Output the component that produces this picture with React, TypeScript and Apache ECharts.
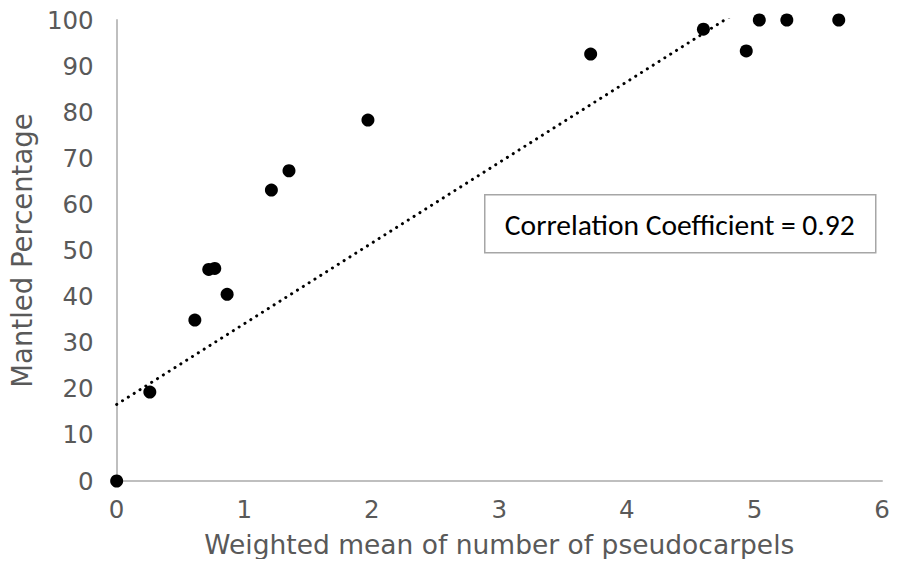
import React, { useEffect, useRef } from "react";
import * as echarts from "echarts";

// Weighted mean number of pseudocarpels per sample (x) and mantled percentage (y)
const pseudocarpelMeans = [
  0, 0.26, 0.613, 0.722, 0.769, 0.866, 1.213, 1.351, 1.97, 3.716, 4.6, 4.936, 5.038, 5.254, 5.661,
];
const mantledPercent = [
  0, 19.3, 34.9, 45.9, 46.1, 40.5, 63.1, 67.3, 78.3, 92.6, 98.0, 93.3, 100, 100, 100,
];

// Linear trend line
const trendIntercept = 16.6;
const trendSlope = 17.5;
const correlationText = "Correlation Coefficient = 0.92";

const xTicks = [0, 1, 2, 3, 4, 5, 6];
const yTicks = [0, 10, 20, 30, 40, 50, 60, 70, 80, 90, 100];

const AXIS_FONT = "'DejaVu Sans', Verdana, sans-serif";
const GREY_TEXT = "#595959";

export default function App() {
  const ref = useRef<HTMLDivElement>(null);

  useEffect(() => {
    if (!ref.current) return;
    const chart = echarts.init(ref.current, undefined, { renderer: "svg" });

    const points = pseudocarpelMeans.map((x, i) => [x, mantledPercent[i]]);
    const xMin = Math.min(...pseudocarpelMeans);
    const xMax = Math.max(...pseudocarpelMeans);
    const trend = [
      [xMin, trendIntercept + trendSlope * xMin],
      [xMax, trendIntercept + trendSlope * xMax],
    ];

    chart.setOption({
      animation: false,
      backgroundColor: "#ffffff",
      grid: { left: 115, right: 21, top: 20, bottom: 86, containLabel: false },
      xAxis: {
        type: "value",
        min: xTicks[0],
        max: xTicks[xTicks.length - 1],
        interval: 1,
        name: "Weighted mean of number of pseudocarpels",
        nameLocation: "middle",
        nameGap: 50,
        nameTextStyle: { fontFamily: AXIS_FONT, fontSize: 26.5, color: GREY_TEXT },
        axisLine: { show: true, onZero: false, lineStyle: { color: "#bfbfbf", width: 2 } },
        axisTick: { show: false },
        splitLine: { show: false },
        axisLabel: { fontFamily: AXIS_FONT, fontSize: 24.5, color: GREY_TEXT, margin: 16 },
      },
      yAxis: {
        type: "value",
        min: yTicks[0],
        max: yTicks[yTicks.length - 1],
        interval: 10,
        name: "Mantled Percentage",
        nameLocation: "middle",
        nameGap: 80,
        nameTextStyle: { fontFamily: AXIS_FONT, fontSize: 27.5, color: GREY_TEXT },
        axisLine: { show: true, onZero: false, lineStyle: { color: "#bfbfbf", width: 2 } },
        axisTick: { show: false },
        splitLine: { show: false },
        axisLabel: { fontFamily: AXIS_FONT, fontSize: 24.5, color: GREY_TEXT, margin: 23 },
      },
      series: [
        {
          type: "line",
          data: trend,
          showSymbol: false,
          symbol: "none",
          clip: true,
          silent: true,
          lineStyle: { color: "#000000", width: 3, type: [0.1, 6.8], cap: "round" },
          z: 2,
        },
        {
          type: "scatter",
          data: points,
          symbol: "circle",
          symbolSize: 13,
          itemStyle: { color: "#000000", opacity: 1 },
          clip: false,
          z: 3,
        },
      ],
      graphic: [
        {
          type: "group",
          left: 484,
          top: 194,
          children: [
            {
              type: "rect",
              shape: { x: 0, y: 0, width: 391, height: 58 },
              style: { fill: "#ffffff", stroke: "#a6a6a6", lineWidth: 1.5 },
            },
            {
              type: "text",
              x: 195,
              y: 30,
              style: {
                text: correlationText,
                fontFamily: "Carlito, Lato, 'Open Sans', sans-serif",
                fontSize: 29.5,
                fill: "#000000",
                align: "center",
                verticalAlign: "middle",
              },
            },
          ],
        },
      ],
    });

    return () => chart.dispose();
  }, []);

  return <div ref={ref} style={{ width: 903, height: 567, margin: -8 }} />;
}
